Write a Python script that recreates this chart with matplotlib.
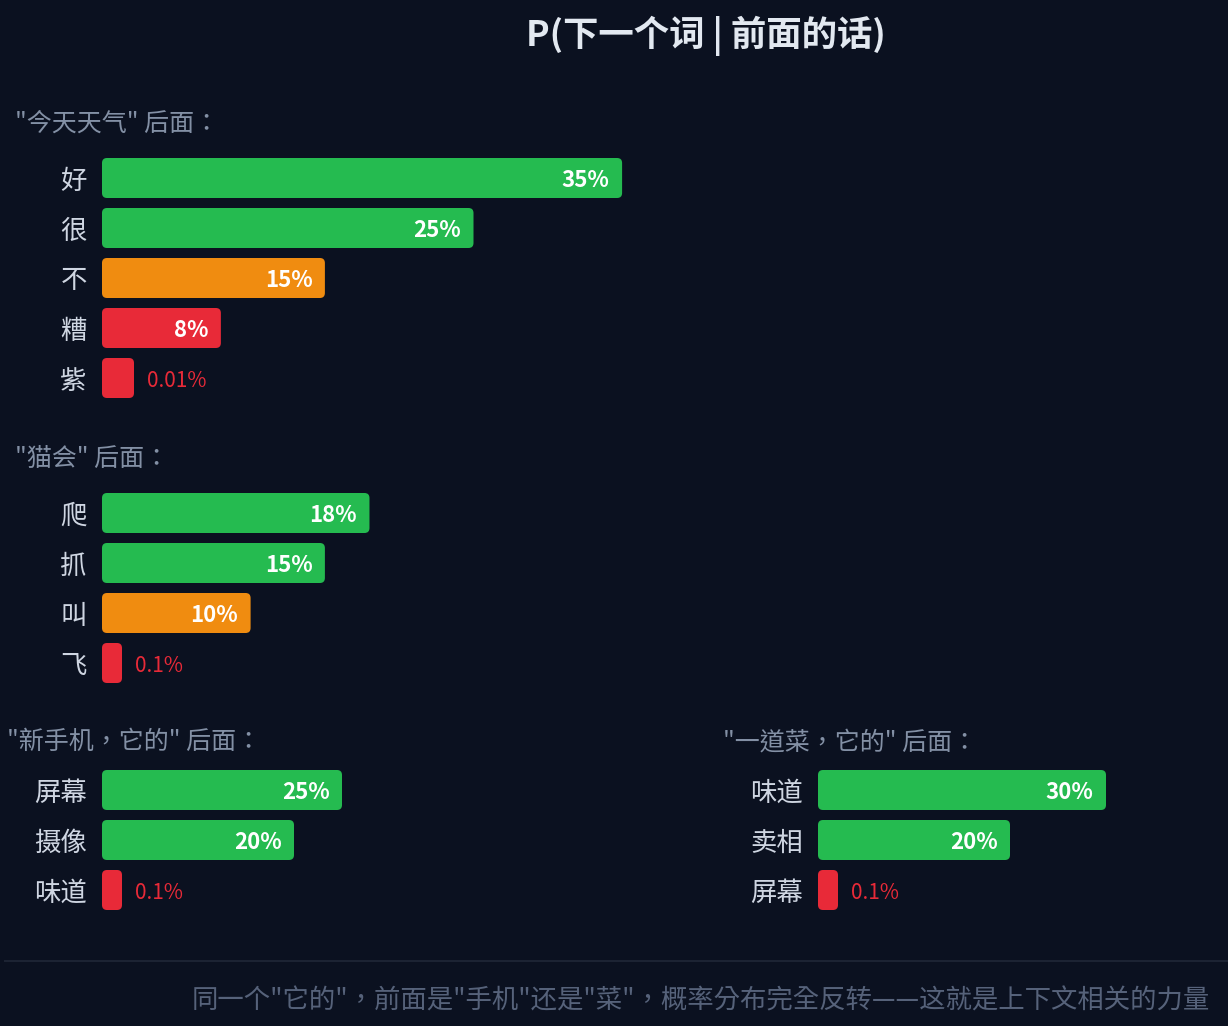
import matplotlib
matplotlib.use("Agg")
import matplotlib.pyplot as plt
from matplotlib.patches import FancyBboxPatch
from matplotlib.lines import Line2D

plt.rcParams['font.family'] = ['Noto Sans CJK SC', 'DejaVu Sans']
PUNCT_FONT = ['Noto Sans CJK TC', 'DejaVu Sans']  # centred full-width punctuation

# data
title = "P(下一个词 | 前面的话)"
footer = "同一个\"它的\"，前面是\"手机\"还是\"菜\"，概率分布完全反转——这就是上下文相关的力量"

headers = ['"今天天气" 后面：', '"猫会" 后面：', '"新手机，它的" 后面：', '"一道菜，它的" 后面：']
words_weather = ['好', '很', '不', '糟', '紫']
probs_weather = [35, 25, 15, 8, 0.01]
words_cat = ['爬', '抓', '叫', '飞']
probs_cat = [18, 15, 10, 0.1]
words_phone = ['屏幕', '摄像', '味道']
probs_phone = [25, 20, 0.1]
words_dish = ['味道', '卖相', '屏幕']
probs_dish = [30, 20, 0.1]

# style
BG = '#0b1120'
GREEN = '#25bb50'
ORANGE = '#f08c10'
RED = '#e82a38'
W, H = 1228, 1026

colors_weather = [GREEN, GREEN, ORANGE, RED, RED]
colors_cat = [GREEN, GREEN, ORANGE, RED]
colors_phone = [GREEN, GREEN, RED]
colors_dish = [GREEN, GREEN, RED]

fig = plt.figure(figsize=(W / 100, H / 100), dpi=100, facecolor=BG)


def section(words, probs, colors, x0, top, px_per, width, min_px):
    n = len(words)
    ax = fig.add_axes([x0 / W, 1 - (top + n * 50) / H, width / W, n * 50 / H])
    ax.set_facecolor('none')
    ax.set_xlim(0, width / px_per)
    ax.set_ylim(n - 0.5, -0.5)
    shown = [max(p, min_px / px_per) for p in probs]
    bars = ax.barh(range(n), shown, height=0.8, color=colors)
    r = 5 / px_per
    for b, c, p in zip(bars, colors, probs):
        x, y = b.get_x(), b.get_y()
        bw, bh = b.get_width(), b.get_height()
        b.remove()
        ax.add_patch(FancyBboxPatch((x, y), bw, bh,
                                    boxstyle=f"round,pad=0,rounding_size={r}",
                                    mutation_aspect=px_per / 50,
                                    facecolor=c, edgecolor='none'))
        lab = f"{p:g}%"
        if bw * px_per > 60:
            ax.annotate(lab, (bw, y + bh / 2), xytext=(-9, -2), textcoords='offset points',
                        ha='right', va='center', color='white', fontsize=16, fontweight='bold')
        else:
            ax.annotate(lab, (bw, y + bh / 2), xytext=(9, -2), textcoords='offset points',
                        ha='left', va='center', color=c, fontsize=15)
    ax.set_yticks(range(n))
    ax.set_yticklabels(words, fontsize=19, color='#cfd6e2')
    ax.tick_params(axis='y', length=0, pad=11)
    ax.set_xticks([])
    for s in ax.spines.values():
        s.set_visible(False)
    return ax


fig.text(706 / W, 1 - 36 / H, title, ha='center', va='center',
         fontsize=25.5, fontweight='bold', color='#e2e8f0')

hdr_color = '#8390a5'
fig.text(15 / W, 1 - 124 / H, headers[0], ha='left', va='center', fontsize=18,
         color=hdr_color, family=PUNCT_FONT)
section(words_weather, probs_weather, colors_weather, 102, 153, 14.86, 1000, 32)

fig.text(15 / W, 1 - 459 / H, headers[1], ha='left', va='center', fontsize=18,
         color=hdr_color, family=PUNCT_FONT)
section(words_cat, probs_cat, colors_cat, 102, 488, 14.86, 1000, 20)

fig.text(7 / W, 1 - 742 / H, headers[2], ha='left', va='center', fontsize=18,
         color=hdr_color, family=PUNCT_FONT)
section(words_phone, probs_phone, colors_phone, 102, 765, 9.6, 500, 20)

fig.text(723 / W, 1 - 742 / H, headers[3], ha='left', va='center', fontsize=18,
         color=hdr_color, family=PUNCT_FONT)
section(words_dish, probs_dish, colors_dish, 818, 765, 9.6, 400, 20)

fig.add_artist(Line2D([5 / W, 1], [1 - 961 / H, 1 - 961 / H], color='#1c2333', lw=1.5))
fig.text(1210 / W, 1 - 1001 / H, footer, ha='right', va='center', fontsize=19,
         color='#56627a', family=PUNCT_FONT)

fig.savefig('out.png', dpi=100, facecolor=BG)
